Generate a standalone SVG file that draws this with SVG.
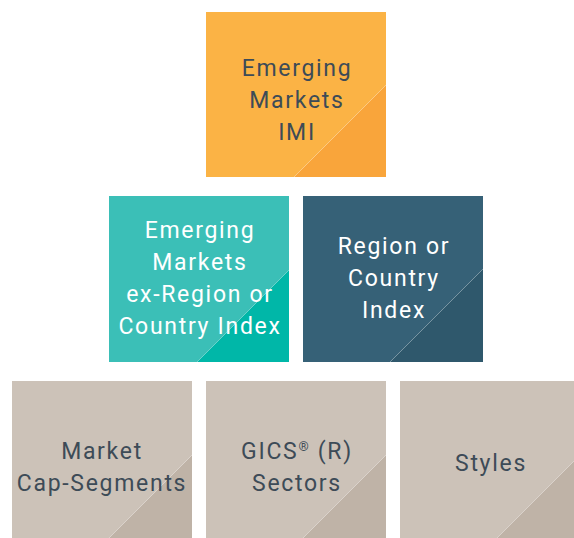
<svg xmlns="http://www.w3.org/2000/svg" width="574" height="538" viewBox="0 0 574 538">
<style>
.t{font-family:Roboto,"Liberation Sans",sans-serif;font-size:23px;text-anchor:middle;letter-spacing:1.7px}
.d{fill:#3d4b57}
.w{fill:#ffffff}
.edge{fill:none;stroke:#ffffff;stroke-opacity:0.35;stroke-width:1}
</style>
<rect width="574" height="538" fill="#ffffff"/>
<g id="node-em-imi">
<rect x="206" y="12" width="180" height="165" fill="#fbb345"/>
<polygon points="386,85 386,177 294,177" fill="#f9a53b"/>
<line x1="386" y1="85" x2="294" y2="177" class="edge"/>
<text class="t d" x="297" y="76">Emerging</text>
<text class="t d" x="297" y="108">Markets</text>
<text class="t d" x="297" y="140">IMI</text>
</g>
<g id="node-em-ex">
<rect x="109" y="196" width="180" height="166" fill="#3bbfb7"/>
<polygon points="289,270 289,362 197,362" fill="#00b7a8"/>
<line x1="289" y1="270" x2="197" y2="362" class="edge"/>
<text class="t w" x="200" y="238">Emerging</text>
<text class="t w" x="200" y="270">Markets</text>
<text class="t w" x="200" y="302">ex-Region or</text>
<text class="t w" x="200" y="334">Country Index</text>
</g>
<g id="node-region">
<rect x="303" y="196" width="180" height="166" fill="#366177"/>
<polygon points="483,269 483,362 390,362" fill="#2f586c"/>
<line x1="483" y1="269" x2="390" y2="362" class="edge"/>
<text class="t w" x="394" y="254">Region or</text>
<text class="t w" x="394" y="286">Country</text>
<text class="t w" x="394" y="318">Index</text>
</g>
<g id="node-cap">
<rect x="12" y="381" width="180" height="166" fill="#ccc2b8"/>
<polygon points="192,455 192,547 100,547" fill="#bfb3a7"/>
<line x1="192" y1="455" x2="100" y2="547" class="edge"/>
<text class="t d" x="102" y="459">Market</text>
<text class="t d" x="102" y="491">Cap-Segments</text>
</g>
<g id="node-gics">
<rect x="206" y="381" width="180" height="166" fill="#ccc2b8"/>
<polygon points="386,455 386,547 294,547" fill="#bfb3a7"/>
<line x1="386" y1="455" x2="294" y2="547" class="edge"/>
<text class="t d" x="297" y="459">GICS<tspan font-size="13" dy="-8">®</tspan><tspan dy="8"> (R)</tspan></text>
<text class="t d" x="297" y="491">Sectors</text>
</g>
<g id="node-styles">
<rect x="400" y="381" width="180" height="166" fill="#ccc2b8"/>
<polygon points="580,455 580,547 488,547" fill="#bfb3a7"/>
<line x1="580" y1="455" x2="488" y2="547" class="edge"/>
<text class="t d" x="491" y="471">Styles</text>
</g>
<g id="connectors"></g>
</svg>
